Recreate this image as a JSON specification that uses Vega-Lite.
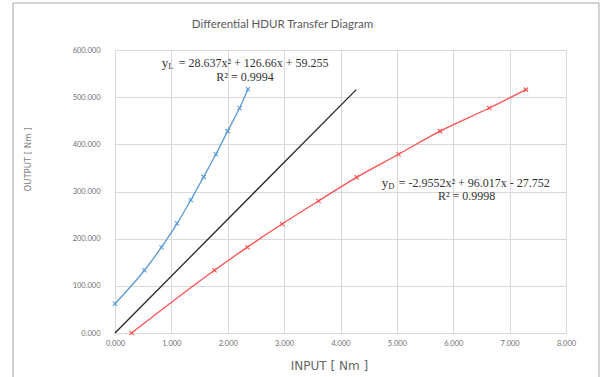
{
  "$schema": "https://vega.github.io/schema/vega-lite/v6.json",
  "width": 451,
  "height": 283,
  "autosize": {"type": "none"},
  "padding": {"left": 115, "top": 50, "right": 44, "bottom": 44},
  "background": "white",
  "title": {
    "text": "Differential HDUR Transfer Diagram",
    "font": "Lato",
    "fontSize": 11.5,
    "fontWeight": "normal",
    "color": "#595959",
    "anchor": "middle",
    "frame": "group",
    "dx": -58,
    "offset": -28
  },
  "datasets": {
    "curves": [
      {"series": "ideal", "input": 0, "output": 0},
      {"series": "ideal", "input": 4.28, "output": 516},
      {"series": "yL", "input": 0, "output": 62},
      {"series": "yL", "input": 0.523, "output": 133},
      {"series": "yL", "input": 0.825, "output": 182},
      {"series": "yL", "input": 1.1, "output": 232},
      {"series": "yL", "input": 1.345, "output": 282},
      {"series": "yL", "input": 1.572, "output": 331},
      {"series": "yL", "input": 1.79, "output": 379},
      {"series": "yL", "input": 1.998, "output": 428},
      {"series": "yL", "input": 2.21, "output": 477},
      {"series": "yL", "input": 2.358, "output": 517},
      {"series": "yD", "input": 0.294, "output": 0},
      {"series": "yD", "input": 1.765, "output": 133},
      {"series": "yD", "input": 2.348, "output": 182},
      {"series": "yD", "input": 2.963, "output": 231},
      {"series": "yD", "input": 3.61, "output": 280},
      {"series": "yD", "input": 4.285, "output": 330},
      {"series": "yD", "input": 5.03, "output": 379},
      {"series": "yD", "input": 5.765, "output": 428},
      {"series": "yD", "input": 6.64, "output": 477},
      {"series": "yD", "input": 7.29, "output": 516}
    ],
    "notes": [
      {"x": 0.828, "y": 572, "sub": "L", "eq": "= 28.637x² + 126.66x + 59.255"},
      {"x": 4.731, "y": 318, "sub": "D", "eq": "= -2.9552x² + 96.017x - 27.752"}
    ],
    "r2": [
      {"x": 2.306, "y": 542, "t": "R² = 0.9994"},
      {"x": 6.237, "y": 291, "t": "R² = 0.9998"}
    ]
  },
  "config": {
    "view": {"stroke": null},
    "axis": {
      "grid": true,
      "gridColor": "#d9d9d9",
      "gridWidth": 1,
      "domain": false,
      "ticks": false,
      "labelFlush": false,
      "labelOverlap": false,
      "labelFont": "Lato",
      "labelFontSize": 7.5,
      "labelColor": "#707070",
      "titleFontWeight": "normal",
      "titleColor": "#595959"
    }
  },
  "layer": [
    {
      "data": {"values": [{}]},
      "mark": {"type": "rect", "fill": null, "stroke": "#a6a6a6", "strokeWidth": 1},
      "encoding": {
        "x": {"datum": -1.809, "type": "quantitative", "scale": {"domain": [0, 8]}},
        "x2": {"datum": 8.585},
        "y": {"datum": 699.6, "type": "quantitative", "scale": {"domain": [0, 600]}},
        "y2": {"datum": -99.6}
      }
    },
    {
      "data": {"name": "curves"},
      "mark": {"type": "line", "strokeWidth": 1.3, "interpolate": "monotone"},
      "encoding": {
        "x": {
          "field": "input", "type": "quantitative",
          "scale": {"domain": [0, 8], "nice": false},
          "axis": {
            "values": [0, 1, 2, 3, 4, 5, 6, 7, 8],
            "format": ".3f",
            "labelPadding": 6,
            "title": "INPUT [ Nm ]",
            "titleFont": "DejaVu Sans",
            "titleFontSize": 12,
            "titleColor": "#666666",
            "titleX": 214,
            "titleY": 32,
            "titleBaseline": "middle"
          }
        },
        "y": {
          "field": "output", "type": "quantitative",
          "scale": {"domain": [0, 600], "nice": false},
          "axis": {
            "values": [0, 100, 200, 300, 400, 500, 600],
            "format": ".3f",
            "labelPadding": 15,
            "title": "OUTPUT [ Nm ]",
            "titleFont": "DejaVu Sans",
            "titleFontSize": 8.5,
            "titleColor": "#7f7f7f",
            "titleX": -88,
            "titleY": 109,
            "titleAngle": -90,
            "titleBaseline": "middle",
            "titleAlign": "center"
          }
        },
        "color": {
          "field": "series", "type": "nominal",
          "scale": {"domain": ["ideal", "yL", "yD"], "range": ["#262626", "#5b9bd5", "#ff5050"]},
          "legend": null
        }
      }
    },
    {
      "data": {"name": "curves"},
      "transform": [{"filter": "datum.series !== 'ideal'"}],
      "mark": {"type": "point", "shape": "M-1,-1L1,1M1,-1L-1,1", "filled": false, "size": 18, "strokeWidth": 1.1, "opacity": 1},
      "encoding": {
        "x": {"field": "input", "type": "quantitative"},
        "y": {"field": "output", "type": "quantitative"},
        "color": {"field": "series", "type": "nominal", "legend": null}
      }
    },
    {
      "data": {"name": "notes"},
      "mark": {"type": "text", "font": "Liberation Serif", "fontSize": 13, "align": "left", "baseline": "middle", "color": "#333333"},
      "encoding": {
        "x": {"field": "x", "type": "quantitative"},
        "y": {"field": "y", "type": "quantitative"},
        "text": {"value": "y"}
      }
    },
    {
      "data": {"name": "notes"},
      "mark": {"type": "text", "font": "Liberation Serif", "fontSize": 8.5, "align": "left", "baseline": "middle", "dx": 6.5, "dy": 3, "color": "#333333"},
      "encoding": {
        "x": {"field": "x", "type": "quantitative"},
        "y": {"field": "y", "type": "quantitative"},
        "text": {"field": "sub"}
      }
    },
    {
      "data": {"name": "notes"},
      "mark": {"type": "text", "font": "Liberation Serif", "fontSize": 12, "align": "left", "baseline": "middle", "dx": 17, "color": "#333333"},
      "encoding": {
        "x": {"field": "x", "type": "quantitative"},
        "y": {"field": "y", "type": "quantitative"},
        "text": {"field": "eq"}
      }
    },
    {
      "data": {"name": "r2"},
      "mark": {"type": "text", "font": "Liberation Serif", "fontSize": 12, "align": "center", "baseline": "middle", "color": "#333333"},
      "encoding": {
        "x": {"field": "x", "type": "quantitative"},
        "y": {"field": "y", "type": "quantitative"},
        "text": {"field": "t"}
      }
    }
  ]
}
